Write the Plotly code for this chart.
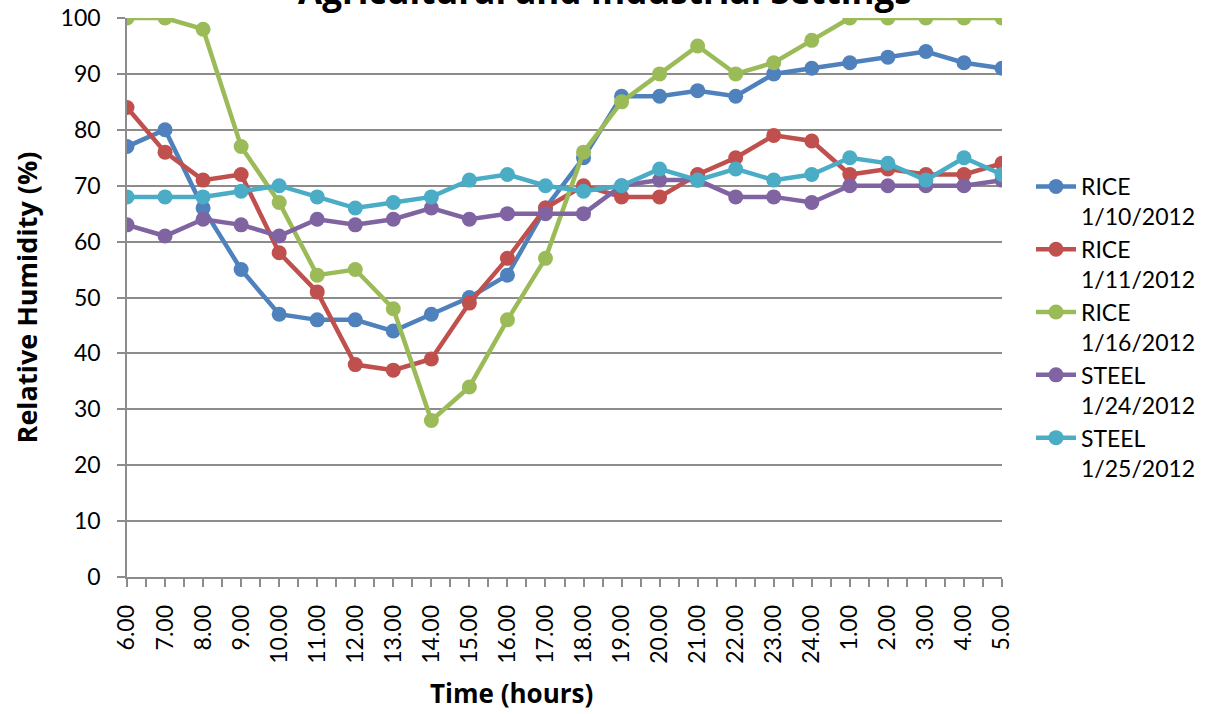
import plotly.graph_objects as go

hours = ["6.00", "7.00", "8.00", "9.00", "10.00", "11.00", "12.00", "13.00", "14.00",
         "15.00", "16.00", "17.00", "18.00", "19.00", "20.00", "21.00", "22.00", "23.00",
         "24.00", "1.00", "2.00", "3.00", "4.00", "5.00"]

rice_0110 = [77, 80, 66, 55, 47, 46, 46, 44, 47, 50, 54, 66, 75, 86, 86, 87, 86, 90, 91, 92, 93, 94, 92, 91]
rice_0111 = [84, 76, 71, 72, 58, 51, 38, 37, 39, 49, 57, 66, 70, 68, 68, 72, 75, 79, 78, 72, 73, 72, 72, 74]
rice_0116 = [100, 100, 98, 77, 67, 54, 55, 48, 28, 34, 46, 57, 76, 85, 90, 95, 90, 92, 96, 100, 100, 100, 100, 100]
steel_0124 = [63, 61, 64, 63, 61, 64, 63, 64, 66, 64, 65, 65, 65, 70, 71, 71, 68, 68, 67, 70, 70, 70, 70, 71]
steel_0125 = [68, 68, 68, 69, 70, 68, 66, 67, 68, 71, 72, 70, 69, 70, 73, 71, 73, 71, 72, 75, 74, 71, 75, 72]

series_names = ["RICE<br>1/10/2012", "RICE<br>1/11/2012", "RICE<br>1/16/2012",
                "STEEL<br>1/24/2012", "STEEL<br>1/25/2012"]
series_values = [rice_0110, rice_0111, rice_0116, steel_0124, steel_0125]
colors = ["#4F81BD", "#C0504D", "#9BBB59", "#8064A2", "#4BACC6"]

chart_title = "Agricultural and Industrial Settings"
x_title = "Time (hours)"
y_title = "Relative Humidity (%)"

xi = list(range(len(hours)))
FONT = "Lato"
BOLD = "Open Sans"
GRID = "#8C8C8C"

W, H = 1205, 714
L, T, R, B = 127, 18, 203, 137
PW, PH = W - L - R, H - T - B

fig = go.Figure()
for name, vals, col in zip(series_names, series_values, colors):
    fig.add_trace(go.Scatter(
        x=xi, y=vals, name=name, mode="lines+markers",
        line=dict(color=col, width=4.5),
        marker=dict(color=col, size=15),
    ))

fig.add_annotation(
    text="<b>" + chart_title + "</b>", xref="paper", yref="paper",
    x=(605 - L) / PW, xanchor="center", y=1 + 2 / PH, yanchor="bottom",
    showarrow=False, font=dict(family=BOLD, size=35, color="black"),
)
fig.add_annotation(
    text="<b>" + x_title + "</b>", xref="paper", yref="paper",
    x=(511 - L) / PW, xanchor="center", y=(H - B - 693) / PH, yanchor="middle",
    showarrow=False, font=dict(family=BOLD, size=26, color="black"),
)

fig.update_layout(
    width=W, height=H,
    margin=dict(l=L, r=R, t=T, b=B, autoexpand=False),
    paper_bgcolor="white", plot_bgcolor="white",
    font=dict(family=FONT, size=23, color="black"),
    showlegend=True,
    legend=dict(x=(1031 - L) / PW, xanchor="left", y=(H - B - 165) / PH, yanchor="top",
                valign="top", font=dict(family=FONT, size=23, color="black"),
                bgcolor="rgba(0,0,0,0)", borderwidth=0, itemwidth=40),
    xaxis=dict(
        range=[0, len(hours) - 1], tickmode="array", tickvals=xi, ticktext=hours,
        tickangle=-90, ticks="outside", ticklen=8, tickwidth=1.5, tickcolor=GRID,
        minor=dict(dtick=0.5, tick0=0, ticks="outside", ticklen=8, tickwidth=1.5, tickcolor=GRID, showgrid=False),
        showline=True, linecolor=GRID, linewidth=1.5, showgrid=False, zeroline=False,
        ticklabelstandoff=9, automargin=False, ticklabeloverflow="allow",
        tickfont=dict(family=FONT, size=23),
    ),
    xaxis2=dict(
        range=[0, len(hours) - 1], overlaying="x", anchor="y", side="bottom",
        tickmode="linear", dtick=0.5, tick0=0, ticks="inside", ticklen=8, tickwidth=1.5,
        tickcolor=GRID, showticklabels=False, showgrid=False, zeroline=False, showline=False,
        automargin=False,
    ),
    yaxis=dict(
        range=[0, 100], dtick=10, tick0=0, ticks="outside", ticklen=8, tickwidth=1.5, tickcolor=GRID,
        showline=True, linecolor=GRID, linewidth=1.5, showgrid=True, gridcolor=GRID, gridwidth=1.5,
        zeroline=False, ticklabelstandoff=12, automargin=False, ticklabeloverflow="allow",
        tickfont=dict(family=FONT, size=23),
        title=dict(text="<b>" + y_title + "</b>", font=dict(family=BOLD, size=27), standoff=15),
    ),
)

fig.write_html("out.html", config={"displayModeBar": False},
               post_script="document.body.style.margin='0';")
